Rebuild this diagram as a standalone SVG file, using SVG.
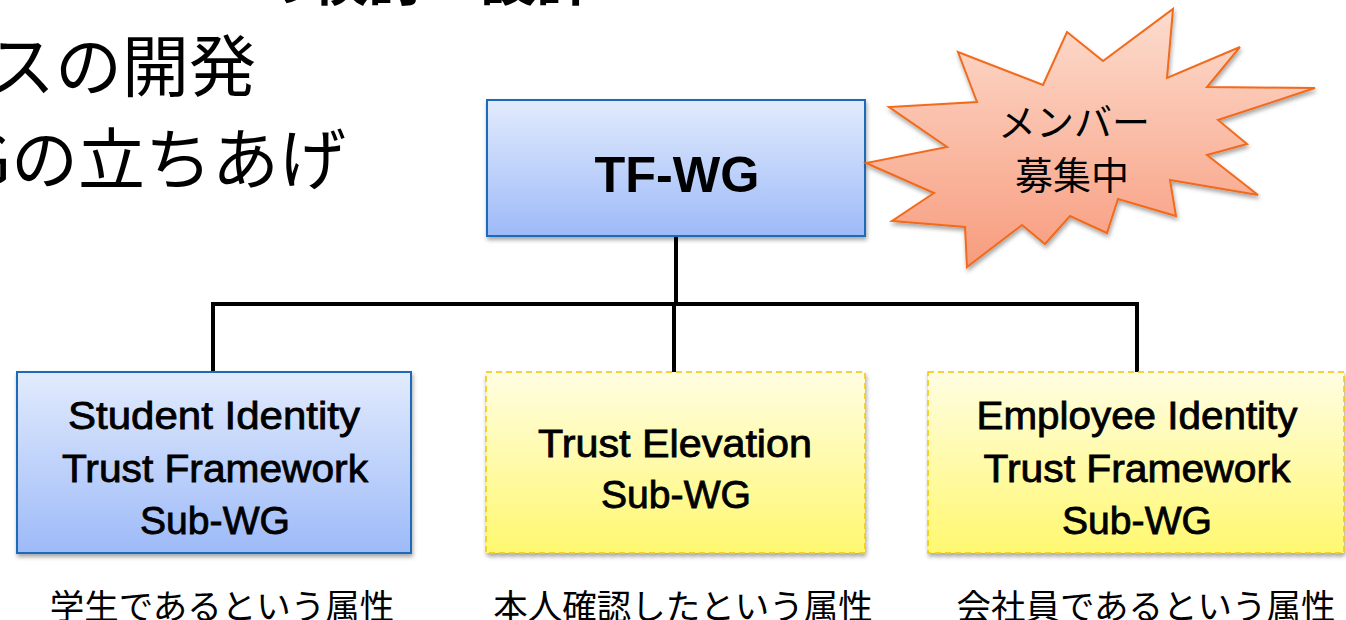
<svg xmlns="http://www.w3.org/2000/svg" width="1346" height="620" viewBox="0 0 1346 620">
<defs>
<linearGradient id="gBlue" x1="0" y1="0" x2="0" y2="1">
<stop offset="0" stop-color="#e2ebfd"/>
<stop offset="1" stop-color="#9dbaf8"/>
</linearGradient>
<linearGradient id="gYellow" x1="0" y1="0" x2="0" y2="1">
<stop offset="0" stop-color="#fffde2"/>
<stop offset="1" stop-color="#fff870"/>
</linearGradient>
<linearGradient id="gOrange" x1="0" y1="0" x2="0" y2="1">
<stop offset="0" stop-color="#fcdcce"/>
<stop offset="1" stop-color="#f89c7e"/>
</linearGradient>
<filter id="shadow" x="-10%" y="-10%" width="120%" height="130%">
<feDropShadow dx="1" dy="3" stdDeviation="2" flood-color="#000" flood-opacity="0.35"/>
</filter>
<style>
.blue{fill:url(#gBlue);stroke:#1b6bb8;stroke-width:2}
.yellow{fill:url(#gYellow);stroke:#f2c500;stroke-width:1.5;stroke-dasharray:6 4}
.lbl{font-family:"Liberation Sans","Noto Sans CJK JP",sans-serif;font-size:38px;fill:#000;stroke:#000;stroke-width:0.8;text-anchor:middle}
.jp{font-family:"Noto Sans CJK JP",sans-serif;fill:#000}
.cap{font-family:"Noto Sans CJK JP",sans-serif;font-size:34.5px;fill:#000;text-anchor:middle}
.conn{stroke:#000;stroke-width:4;fill:none}
</style>
</defs>
<rect width="1346" height="620" fill="#fff"/>

<g id="bg-text">
<text class="jp" x="592" y="0" font-size="56" font-weight="bold" text-anchor="end">の検討・設計</text>
<text class="jp" x="256" y="91" font-size="67" text-anchor="end">スの開発</text>
<text class="jp" x="346" y="184" font-size="67" text-anchor="end">Gの立ちあげ</text>
</g>

<g id="connectors">
<path class="conn" d="M676 236 V304"/>
<path class="conn" d="M213 372 V304 H1137 V372"/>
<path class="conn" d="M674 304 V372"/>
</g>

<g id="tf-wg">
<rect class="blue" x="487" y="100" width="378" height="136" filter="url(#shadow)"/>
<text x="677" y="192" font-family="Liberation Sans, sans-serif" font-size="50" font-weight="bold" text-anchor="middle" fill="#000" textLength="165" lengthAdjust="spacingAndGlyphs">TF-WG</text>
</g>

<g id="member-burst">
<polygon points="1173,9 1167,78 1240,47 1207,87 1315,88 1218,120 1247,144 1207,155 1258,195 1170,180 1176,216 1118,199 1107,233 1070,216 1045,244 1022,225 967,267 965,227 892,221 934,193 866,163 947,147 889,107 977,102 958,52 1043,85 1067,32 1103,61" fill="url(#gOrange)" stroke="#f26a1b" stroke-width="2" stroke-linejoin="miter" filter="url(#shadow)"/>
<text class="jp" x="1074" y="136" font-size="38" text-anchor="middle">メンバー</text>
<text class="jp" x="1072" y="189" font-size="38" text-anchor="middle">募集中</text>
</g>

<g id="student">
<rect class="blue" x="17" y="372" width="394" height="181" filter="url(#shadow)"/>
<text class="lbl" x="214" y="429" textLength="292" lengthAdjust="spacingAndGlyphs">Student Identity</text>
<text class="lbl" x="215" y="482" textLength="306" lengthAdjust="spacingAndGlyphs">Trust Framework</text>
<text class="lbl" x="215" y="534" textLength="150" lengthAdjust="spacingAndGlyphs">Sub-WG</text>
<text class="cap" x="222" y="619">学生であるという属性</text>
</g>

<g id="trust-elevation">
<rect class="yellow" x="486" y="372" width="379" height="181" filter="url(#shadow)"/>
<text class="lbl" x="675" y="457" textLength="274" lengthAdjust="spacingAndGlyphs">Trust Elevation</text>
<text class="lbl" x="676" y="508" textLength="150" lengthAdjust="spacingAndGlyphs">Sub-WG</text>
<text class="cap" x="683" y="619">本人確認したという属性</text>
</g>

<g id="employee">
<rect class="yellow" x="928" y="372" width="416" height="181" filter="url(#shadow)"/>
<text class="lbl" x="1137" y="429" textLength="321" lengthAdjust="spacingAndGlyphs">Employee Identity</text>
<text class="lbl" x="1137" y="482" textLength="307" lengthAdjust="spacingAndGlyphs">Trust Framework</text>
<text class="lbl" x="1137" y="534" textLength="150" lengthAdjust="spacingAndGlyphs">Sub-WG</text>
<text class="cap" x="1146" y="619">会社員であるという属性</text>
</g>
</svg>
